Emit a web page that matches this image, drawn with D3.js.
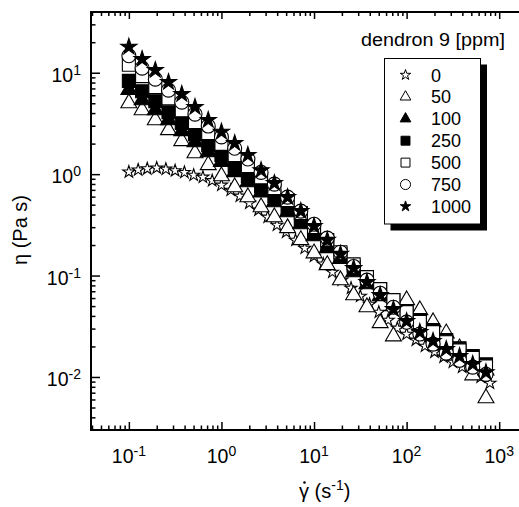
<!DOCTYPE html>
<html>
<head>
<meta charset="utf-8">
<script src="https://cdn.jsdelivr.net/npm/d3@7"></script>
<style>
  body { margin: 0; background: #fff; }
  svg { font-family: "Liberation Sans", Arial, sans-serif; }
</style>
</head>
<body>
<svg id="chart" width="519" height="507"></svg>
<script>
// shear rate (1/s), 7 points per decade
const rate = [0.1, 0.139, 0.193, 0.268, 0.373, 0.518, 0.72, 1, 1.39, 1.93, 2.68, 3.73, 5.18, 7.2,
  10, 13.9, 19.3, 26.8, 37.3, 51.8, 72, 100, 139, 193, 268, 373, 518, 720];
// the 0 ppm run has 10 points per decade
const rate0 = [0.1, 0.126, 0.158, 0.2, 0.251, 0.316, 0.398, 0.501, 0.631, 0.794,
  1, 1.26, 1.58, 2, 2.51, 3.16, 3.98, 5.01, 6.31, 7.94,
  10, 12.6, 15.8, 20, 25.1, 31.6, 39.8, 50.1, 63.1, 79.4,
  100, 126, 158, 200, 251, 316, 398, 501, 631, 794];

// viscosity (Pa s) for each dendron concentration
const eta0 = [1.05, 1.10, 1.13, 1.15, 1.12, 1.08, 1.04, 0.977, 0.934, 0.863,
  0.779, 0.695, 0.607, 0.518, 0.442, 0.377, 0.314, 0.268, 0.223, 0.186,
  0.155, 0.130, 0.108, 0.0901, 0.0751, 0.0626, 0.0522, 0.0435, 0.0363, 0.0303,
  0.0264, 0.0231, 0.0201, 0.0176, 0.0157, 0.0140, 0.0125, 0.0111, 0.00995, 0.00869];
const eta50 = [5.01, 4.28, 3.41, 2.72, 2.12, 1.61, 1.23, 0.956, 0.744, 0.593,
  0.473, 0.377, 0.294, 0.224, 0.166, 0.127, 0.0901, 0.0641, 0.0488, 0.0340,
  0.0252, 0.0572, 0.0456, 0.0347, 0.0270, 0.0192, 0.0104, 0.00618];
const eta100 = [6.79, 5.36, 4.27, 3.41, 2.66, 2.07, 1.65, 1.32, 1.05, 0.835,
  0.662, 0.530, 0.422, 0.321, 0.245, 0.187, 0.146, 0.108, 0.0823, 0.0627,
  0.0499, 0.0398, 0.0317, 0.0253, 0.0206, 0.0171, 0.0140, 0.0116];
const eta250 = [8.32, 6.57, 5.24, 4.08, 3.19, 2.48, 1.93, 1.55, 1.20, 0.956,
  0.758, 0.606, 0.473, 0.360, 0.274, 0.209, 0.163, 0.123, 0.0943, 0.0735,
  0.0572, 0.0446, 0.0364, 0.0290, 0.0231, 0.0192, 0.0161, 0.0133];
const eta500 = [12.0, 9.25, 7.21, 5.61, 4.27, 3.26, 2.54, 1.99, 1.54, 1.20,
  0.930, 0.728, 0.554, 0.413, 0.300, 0.224, 0.170, 0.129, 0.0964, 0.0735,
  0.0572, 0.0436, 0.0348, 0.0277, 0.0220, 0.0183, 0.0154, 0.0127];
const eta750 = [14.7, 11.1, 8.64, 6.73, 5.13, 3.91, 2.98, 2.33, 1.80, 1.41,
  1.04, 0.797, 0.593, 0.432, 0.321, 0.234, 0.170, 0.123, 0.0901, 0.0670,
  0.0487, 0.0347, 0.0265, 0.0211, 0.0172, 0.0146, 0.0125, 0.0106];
const eta1000 = [18.0, 13.6, 10.6, 8.07, 6.15, 4.58, 3.41, 2.61, 2.02, 1.54,
  1.09, 0.815, 0.593, 0.432, 0.307, 0.224, 0.163, 0.118, 0.0861, 0.0641,
  0.0466, 0.0355, 0.0277, 0.0226, 0.0188, 0.0160, 0.0134, 0.0111];

const concLabels = ["0", "50", "100", "250", "500", "750", "1000"];
const xMajor = [0.1, 1, 10, 100, 1000];
const xExp = ["-1", "0", "1", "2", "3"];
const yMajor = [0.01, 0.1, 1, 10];
const yExp = ["-2", "-1", "0", "1"];

const series = [
  {name: "0", x: rate0, y: eta0, type: d3.symbolStar, size: 46, fill: "#fff", lsize: 34},
  {name: "50", x: rate, y: eta50, type: d3.symbolTriangle, size: 110, fill: "#fff", lsize: 50},
  {name: "100", x: rate, y: eta100, type: d3.symbolTriangle, size: 110, fill: "#000", lsize: 50},
  {name: "250", x: rate, y: eta250, type: d3.symbolSquare, size: 169, fill: "#000", lsize: 80},
  {name: "500", x: rate, y: eta500, type: d3.symbolSquare, size: 169, fill: "#fff", lsize: 80},
  {name: "750", x: rate, y: eta750, type: d3.symbolCircle, size: 154, fill: "#fff", lsize: 80},
  {name: "1000", x: rate, y: eta1000, type: d3.symbolStar, size: 81, fill: "#000", lsize: 34}
];

const svg = d3.select("#chart");
const pLeft = 91, pRight = 525, pTop = 12, pBottom = 430;

const x = d3.scaleLog().domain([0.039, 1900]).range([pLeft, pRight]);
const y = d3.scaleLog().domain([0.003, 39.7]).range([pBottom, pTop]);

function minors(lo, hi) {
  let out = [];
  for (let e = -4; e <= 4; e++) {
    for (let k = 2; k <= 9; k++) {
      let v = k * Math.pow(10, e);
      if (v > lo && v < hi) out.push(v);
    }
  }
  return out;
}

const xMinor = minors(0.039, 1900);
const yMinor = minors(0.003, 39.7);

// axes with inward ticks
function axisG(gen, values, len, transform) {
  let g = svg.append("g").attr("transform", transform)
    .call(gen.tickValues(values).tickSize(len).tickSizeOuter(0).tickFormat(""));
  g.select(".domain").remove();
  g.selectAll("line").attr("stroke", "#000").attr("stroke-width", 1.5);
  return g;
}

axisG(d3.axisBottom(x), xMajor, -8, `translate(0,${pBottom})`);
axisG(d3.axisBottom(x), xMinor, -4.5, `translate(0,${pBottom})`);
axisG(d3.axisTop(x), xMajor, -7, `translate(0,${pTop})`);
axisG(d3.axisTop(x), xMinor, -4, `translate(0,${pTop})`);
axisG(d3.axisLeft(y), yMajor, -9, `translate(${pLeft},0)`);
axisG(d3.axisLeft(y), yMinor, -4.5, `translate(${pLeft},0)`);

svg.append("path")
  .attr("d", `M${pRight},${pTop}H${pLeft}V${pBottom}H${pRight}`)
  .attr("fill", "none").attr("stroke", "#000").attr("stroke-width", 2);

// power-of-ten tick labels
function powLabel(t, e) {
  t.append("tspan").text("10");
  t.append("tspan").attr("dy", -7).attr("font-size", 14).text(e);
}

xMajor.forEach((v, i) => {
  let t = svg.append("text").attr("x", x(v)).attr("y", 463)
    .attr("text-anchor", "middle").attr("font-size", 19.5);
  powLabel(t, xExp[i]);
});
yMajor.forEach((v, i) => {
  let t = svg.append("text").attr("x", 81).attr("y", y(v) + 9)
    .attr("text-anchor", "end").attr("font-size", 19.5);
  powLabel(t, yExp[i]);
});

// axis titles: gamma with a dot above, then the unit
let xt = svg.append("text").attr("x", 299).attr("y", 498).attr("font-size", 20);
xt.append("tspan").text("γ ");
xt.append("tspan").text("(s");
xt.append("tspan").attr("dy", -8).attr("font-size", 14).text("-1");
xt.append("tspan").attr("dy", 8).text(")");
svg.append("circle").attr("cx", 304.5).attr("cy", 482.5).attr("r", 1.3).attr("fill", "#000");

svg.append("text")
  .attr("transform", "translate(27,230) rotate(-90)")
  .attr("text-anchor", "middle").attr("font-size", 20)
  .text("η (Pa s)");

// data points
series.forEach(s => {
  const sym = d3.symbol().type(s.type).size(s.size);
  svg.append("g").selectAll("path")
    .data(s.x.map((v, i) => [v, s.y[i]]))
    .join("path")
    .attr("transform", d => `translate(${x(d[0])},${y(d[1])})`)
    .attr("d", sym)
    .attr("fill", s.fill)
    .attr("stroke", "#000")
    .attr("stroke-width", 1.1);
});

// legend
svg.append("text").attr("x", 361).attr("y", 46)
  .attr("font-size", 18).attr("textLength", 144).attr("lengthAdjust", "spacingAndGlyphs")
  .text("dendron 9 [ppm]");

svg.append("rect").attr("x", 390.5).attr("y", 64.5).attr("width", 96.5).attr("height", 166)
  .attr("fill", "#000");
svg.append("rect").attr("x", 384.5).attr("y", 58.5).attr("width", 96).attr("height", 165.5)
  .attr("fill", "#fff").attr("stroke", "#000").attr("stroke-width", 1);

series.forEach((s, i) => {
  const cy = 75 + i * 21.9;
  svg.append("path")
    .attr("transform", `translate(405.5,${cy})`)
    .attr("d", d3.symbol().type(s.type).size(s.lsize))
    .attr("fill", s.fill).attr("stroke", "#000").attr("stroke-width", 1);
  svg.append("text").attr("x", 431).attr("y", cy + 6.5)
    .attr("font-size", 18).text(concLabels[i]);
});
</script>
</body>
</html>
